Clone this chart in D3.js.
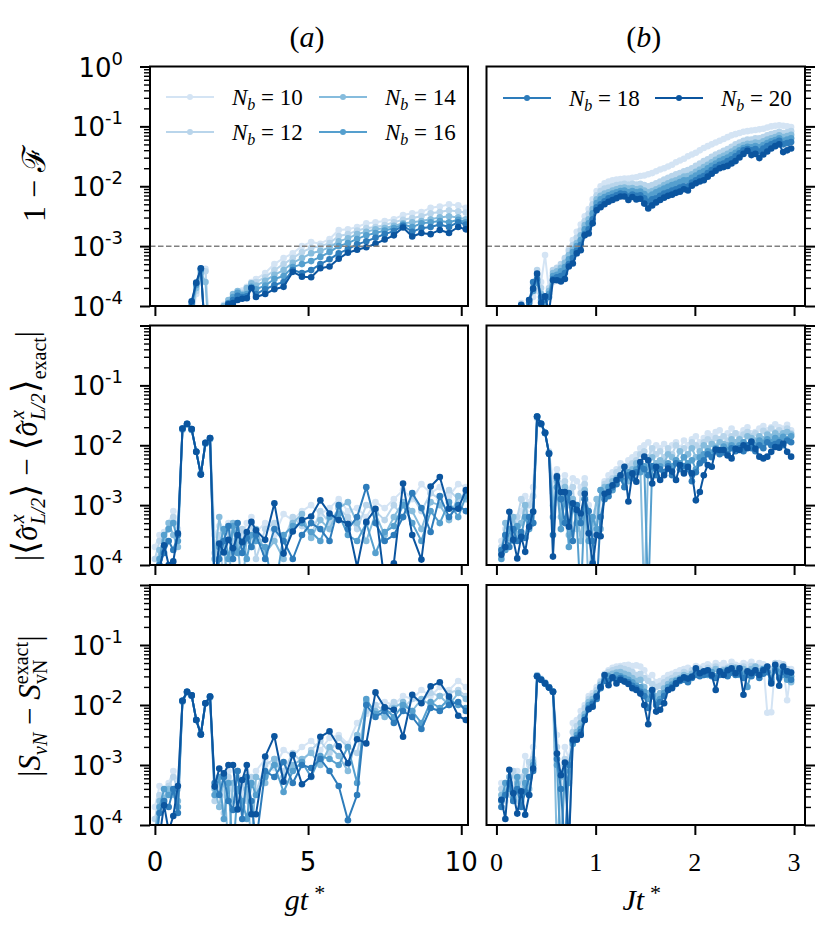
<!DOCTYPE html>
<html>
<head>
<meta charset="utf-8">
<script src="https://cdnjs.cloudflare.com/ajax/libs/d3/7.8.5/d3.min.js"></script>
<style>
  body { margin: 0; background: #fff; }
  svg { display: block; }
</style>
</head>
<body>
<svg id="fig"></svg>
<script>
// series order everywhere: N_b = 10, 12, 14, 16, 18, 20 ; values are log10 of the plotted quantity
const NB = [10, 12, 14, 16, 18, 20];

// time grids
const X_G = [0,0.15,0.3,0.45,0.6,0.75,0.9,1.05,1.2,1.35,1.5,1.65,1.8,1.95,2.1,2.25,2.4,2.55,2.7,2.85,3.0,3.15,3.3,
  3.6,3.9,4.2,4.5,4.8,5.1,5.4,5.7,6.0,6.3,6.6,6.9,7.2,7.5,7.8,8.1,8.4,8.7,9.0,9.3,9.6,9.9,10.15];
const X_J = [0.05,0.09,0.13,0.17,0.21,0.25,0.29,0.33,0.37,0.41,
  0.45,0.49,0.53,0.57,0.61,0.65,0.69,0.73,0.77,0.81,
  0.85,0.89,0.93,0.97,1.01,1.05,1.09,1.13,1.17,1.21,
  1.25,1.29,1.33,1.37,1.41,1.45,1.49,1.53,1.57,1.61,
  1.65,1.69,1.73,1.77,1.81,1.85,1.89,1.93,1.97,2.01,
  2.05,2.09,2.13,2.17,2.21,2.25,2.29,2.33,2.37,2.41,
  2.45,2.49,2.53,2.57,2.61,2.65,2.69,2.73,2.77,2.81,
  2.85,2.89,2.93,2.97];

// (a) 1 - F vs g t
const FID_G = [
  [-5,-5,-5,-5,-5,-5,-5,-4.6,-4.3,-3.8,-3.45,-3.38,-4.6,-4.5,-4.1,-3.98,-3.92,-3.85,-3.8,-3.74,-3.68,-3.6,-3.55,-3.45,-3.3,-3.2,-3.12,-3.0,-2.93,-2.96,-2.88,-2.73,-2.72,-2.68,-2.62,-2.6,-2.58,-2.55,-2.48,-2.45,-2.43,-2.36,-2.34,-2.3,-2.32,-2.36],
  [-5,-5,-5,-5,-5,-5,-5,-4.5,-4.2,-3.75,-3.5,-3.42,-4.7,-4.5,-4.2,-4.02,-3.96,-3.9,-3.85,-3.78,-3.72,-3.66,-3.6,-3.52,-3.4,-3.3,-3.2,-3.1,-3.03,-3.0,-2.95,-2.83,-2.8,-2.74,-2.7,-2.68,-2.65,-2.6,-2.56,-2.53,-2.5,-2.45,-2.43,-2.4,-2.42,-2.44],
  [-5,-5,-5,-5,-5,-5,-5,-4.4,-4.1,-3.7,-3.45,-3.6,-4.8,-4.4,-4.15,-4.0,-3.9,-3.8,-3.75,-3.8,-3.7,-3.62,-3.66,-3.58,-3.48,-3.4,-3.28,-3.2,-3.12,-3.08,-3.02,-2.92,-2.87,-2.8,-2.76,-2.72,-2.7,-2.66,-2.62,-2.6,-2.58,-2.55,-2.52,-2.5,-2.52,-2.55],
  [-5,-5,-5,-5,-5,-5,-5,-4.3,-4.0,-3.65,-3.4,-4.5,-5,-4.5,-4.2,-4.05,-3.95,-3.85,-3.78,-3.82,-3.8,-3.68,-3.72,-3.66,-3.55,-3.5,-3.35,-3.3,-3.25,-3.18,-3.1,-3.0,-2.95,-2.88,-2.82,-2.78,-2.74,-2.7,-2.64,-2.68,-2.62,-2.6,-2.58,-2.6,-2.56,-2.6],
  [-5,-5,-5,-5,-5,-5,-5,-4.3,-3.95,-3.62,-3.38,-4.6,-5,-4.6,-4.25,-4.05,-3.96,-3.9,-3.83,-3.85,-3.84,-3.7,-3.8,-3.72,-3.65,-3.6,-3.4,-3.45,-3.4,-3.3,-3.22,-3.12,-3.05,-2.97,-2.92,-2.86,-2.8,-2.75,-2.66,-2.76,-2.7,-2.68,-2.64,-2.68,-2.6,-2.64],
  [-5,-5,-5,-5,-5,-5,-4.6,-4.3,-3.92,-3.61,-3.37,-4.6,-5,-4.6,-4.3,-4.1,-3.97,-3.95,-3.9,-3.88,-3.87,-3.7,-3.85,-3.8,-3.72,-3.68,-3.43,-3.51,-3.52,-3.37,-3.34,-3.21,-3.11,-3.06,-3.02,-2.96,-2.89,-2.82,-2.69,-2.84,-2.78,-2.8,-2.73,-2.78,-2.68,-2.72]
];

// (b) 1 - F vs J t
const FID_J = [
  [-4.6,-4.5,-4.3,-4.2,-4.05,-3.95,-4.1,-3.9,-3.85,-3.75,-3.6,-3.15,-3.75,
   -3.6,-3.5,-3.38,-3.22,-3.05,-2.9,-2.76,-2.64,-2.5,-2.38,-2.22,
   -2.08,-2.0,-1.95,-1.92,-1.9,-1.89,-1.88,-1.87,-1.87,-1.86,-1.85,-1.83,-1.82,-1.8,-1.78,-1.75,-1.72,-1.7,-1.67,-1.64,
   -1.6,-1.57,-1.54,-1.5,-1.47,-1.44,-1.4,-1.36,-1.33,-1.3,-1.27,-1.24,-1.21,-1.18,-1.15,-1.13,-1.11,-1.09,-1.08,-1.07,
   -1.06,-1.05,-1.04,-1.02,-1.0,-0.99,-0.98,-0.99,-1.0,-1.01],
  [-4.6,-4.5,-4.35,-4.2,-4.1,-4.0,-4.1,-3.9,-3.65,-3.4,-3.7,-3.85,-3.7,
   -3.4,-3.36,-3.3,-3.2,-3.08,-2.98,-2.86,-2.74,-2.58,-2.46,-2.3,
   -2.15,-2.08,-2.04,-2.02,-2.0,-1.98,-1.97,-1.96,-1.97,-1.96,-1.97,-1.96,-1.98,-2.0,-1.98,-1.95,-1.92,-1.89,-1.86,-1.83,
   -1.8,-1.78,-1.75,-1.73,-1.7,-1.66,-1.62,-1.58,-1.55,-1.51,-1.47,-1.44,-1.41,-1.38,-1.34,-1.3,-1.27,-1.24,-1.22,-1.22,
   -1.2,-1.2,-1.18,-1.15,-1.13,-1.11,-1.09,-1.11,-1.1,-1.08],
  [-4.6,-4.4,-4.3,-4.2,-4.15,-4.0,-4.1,-3.95,-3.7,-3.5,-3.8,-3.9,-3.75,
   -3.45,-3.42,-3.36,-3.28,-3.15,-3.05,-2.95,-2.82,-2.65,-2.55,-2.38,
   -2.22,-2.16,-2.12,-2.1,-2.07,-2.05,-2.03,-2.02,-2.04,-2.03,-2.05,-2.04,-2.07,-2.1,-2.08,-2.05,-2.02,-1.98,-1.95,-1.92,
   -1.9,-1.87,-1.84,-1.83,-1.8,-1.76,-1.72,-1.68,-1.64,-1.6,-1.56,-1.52,-1.49,-1.46,-1.42,-1.38,-1.34,-1.31,-1.29,-1.29,
   -1.27,-1.28,-1.25,-1.22,-1.2,-1.18,-1.15,-1.18,-1.16,-1.14],
  [-4.6,-4.5,-4.2,-4.3,-4.1,-4.05,-4.2,-3.9,-3.75,-3.6,-3.9,-4.0,-3.8,
   -3.5,-3.48,-3.42,-3.35,-3.22,-3.1,-3.0,-2.9,-2.72,-2.62,-2.45,
   -2.28,-2.22,-2.18,-2.15,-2.12,-2.1,-2.08,-2.07,-2.1,-2.08,-2.1,-2.09,-2.13,-2.17,-2.14,-2.1,-2.07,-2.04,-2.01,-1.98,
   -1.96,-1.93,-1.9,-1.9,-1.86,-1.82,-1.78,-1.75,-1.7,-1.66,-1.62,-1.58,-1.55,-1.52,-1.48,-1.44,-1.4,-1.36,-1.34,-1.35,
   -1.33,-1.35,-1.31,-1.28,-1.25,-1.23,-1.2,-1.24,-1.22,-1.2],
  [-4.5,-4.4,-4.3,-4.1,-4.2,-4.0,-4.1,-3.95,-3.6,-3.55,-3.85,-3.9,-3.85,
   -3.55,-3.52,-3.5,-3.45,-3.3,-3.2,-3.08,-2.98,-2.8,-2.72,-2.55,
   -2.35,-2.3,-2.25,-2.2,-2.18,-2.15,-2.12,-2.13,-2.17,-2.14,-2.16,-2.15,-2.2,-2.26,-2.22,-2.2,-2.16,-2.12,-2.1,-2.07,
   -2.05,-2.02,-2.0,-2.0,-1.94,-1.9,-1.86,-1.83,-1.78,-1.73,-1.68,-1.64,-1.62,-1.58,-1.55,-1.5,-1.45,-1.4,-1.38,-1.4,
   -1.38,-1.42,-1.37,-1.33,-1.3,-1.27,-1.24,-1.3,-1.28,-1.26],
  [-4.5,-4.4,-4.3,-4.2,-4.05,-3.98,-4.3,-3.9,-3.71,-3.46,-3.95,-3.84,-4.1,
   -3.57,-3.57,-3.59,-3.55,-3.34,-3.29,-3.12,-3.07,-2.82,-2.79,-2.62,
   -2.4,-2.35,-2.3,-2.26,-2.23,-2.2,-2.17,-2.17,-2.23,-2.18,-2.22,-2.21,-2.29,-2.37,-2.32,-2.27,-2.23,-2.19,-2.16,-2.14,
   -2.11,-2.09,-2.05,-2.07,-1.99,-1.95,-1.92,-1.9,-1.84,-1.79,-1.74,-1.7,-1.68,-1.66,-1.62,-1.58,-1.52,-1.46,-1.41,-1.48,
   -1.46,-1.53,-1.47,-1.42,-1.37,-1.33,-1.3,-1.43,-1.4,-1.37]
];

// |<sigma^x_{L/2}> - exact| vs g t
const SIG_G = [
  [-3.7,-3.5,-3.45,-3.3,-3.1,-3.4,-1.75,-1.66,-1.75,-2.1,-2.45,-1.98,-1.9,-3.5,-3.35,-3.6,-3.3,-3.7,-3.4,-3.5,-3.3,-3.2,-3.45,-3.3,-3.5,-3.15,-3.25,-3.1,-3.0,-3.15,-3.05,-2.9,-3.1,-3.05,-3.2,-2.95,-3.05,-2.9,-2.75,-2.9,-2.65,-2.8,-2.7,-2.85,-2.65,-2.7],
  [-3.9,-3.6,-3.55,-3.4,-3.2,-3.5,-1.74,-1.65,-1.74,-2.1,-2.47,-1.97,-1.89,-3.8,-3.5,-4.3,-3.45,-3.6,-3.8,-3.4,-3.6,-3.3,-3.9,-3.4,-3.3,-3.6,-3.2,-3.35,-3.5,-3.1,-3.3,-3.05,-3.2,-3.4,-3.0,-3.1,-3.25,-3.0,-3.2,-2.85,-3.1,-2.8,-2.9,-2.75,-2.9,-2.8],
  [-4.2,-3.75,-3.6,-3.3,-3.5,-3.7,-1.73,-1.65,-1.74,-2.11,-2.48,-1.97,-1.89,-3.9,-3.2,-3.7,-4.4,-3.3,-3.6,-4.5,-3.5,-3.7,-3.4,-3.8,-3.6,-3.9,-3.3,-3.15,-3.55,-3.25,-3.4,-3.05,-2.95,-3.3,-3.6,-3.15,-3.5,-3.2,-2.95,-3.1,-3.4,-2.95,-3.0,-3.25,-2.85,-2.9],
  [-4.3,-3.9,-3.5,-3.4,-3.3,-3.6,-1.73,-1.65,-1.74,-2.11,-2.48,-1.97,-1.89,-4.4,-3.7,-3.4,-3.9,-3.35,-3.8,-3.6,-3.9,-3.5,-3.6,-3.7,-4.5,-3.5,-3.35,-3.3,-3.45,-3.6,-3.2,-3.15,-3.5,-3.6,-3.3,-3.8,-3.45,-3.35,-3.0,-3.3,-3.6,-3.1,-3.3,-2.95,-3.2,-2.85],
  [-4.5,-4.0,-3.8,-3.6,-3.75,-3.5,-1.72,-1.64,-1.73,-2.11,-2.49,-1.96,-1.88,-4.5,-3.9,-3.6,-3.35,-3.9,-3.3,-3.8,-3.55,-3.7,-3.5,-3.9,-3.4,-3.6,-3.9,-3.5,-3.3,-3.4,-3.6,-3.0,-3.4,-3.2,-2.7,-3.3,-3.6,-3.5,-3.2,-2.8,-3.05,-3.45,-2.85,-3.2,-3.0,-3.1],
  [-4.4,-4.1,-3.67,-4.0,-3.94,-3.47,-1.72,-1.64,-1.73,-2.11,-2.49,-1.96,-1.88,-4.3,-3.64,-3.79,-3.58,-3.72,-3.5,-3.62,-3.45,-3.28,-3.42,-3.58,-2.97,-3.81,-3.44,-3.25,-3.19,-2.92,-3.14,-3.25,-3.31,-4.03,-3.28,-3.06,-4.3,-3.97,-2.64,-3.5,-3.91,-2.69,-2.53,-3.06,-3.06,-2.75]
];

// |<sigma^x_{L/2}> - exact| vs J t
const SIG_J = [
  [-3.6,-3.4,-3.3,-3.25,-3.3,-3.1,-2.85,-2.95,-2.7,-1.55,
   -1.66,-1.8,-2.1,-2.6,-2.4,-2.65,-2.5,-2.8,-2.55,-2.6,
   -2.7,-2.55,-3.0,-3.3,-4.5,-2.9,-2.6,-2.5,-2.45,-2.4,
   -2.3,-2.35,-2.25,-2.2,-2.15,-2.05,-2.0,-1.95,-2.1,-2.0,
   -2.05,-1.98,-2.1,-2.0,-1.95,-2.05,-1.92,-2.0,-1.9,-1.85,
   -1.95,-1.88,-1.8,-1.85,-1.78,-1.75,-1.85,-1.8,-1.72,-1.8,
   -1.82,-1.75,-1.7,-1.8,-1.78,-1.72,-1.68,-1.75,-1.7,-1.65,
   -1.7,-1.72,-1.66,-1.75],
  [-3.7,-3.5,-3.4,-3.3,-3.2,-2.9,-3.1,-3.0,-2.85,-1.54,
   -1.65,-1.79,-2.12,-2.8,-2.5,-2.9,-2.6,-3.0,-2.7,-3.4,
   -2.8,-2.65,-3.2,-4.4,-3.1,-2.75,-2.65,-2.6,-2.55,-2.45,
   -2.4,-2.5,-2.35,-2.3,-2.25,-2.15,-2.1,-2.2,-2.05,-2.15,
   -2.1,-2.2,-2.05,-2.15,-2.0,-2.1,-2.05,-2.15,-1.95,-2.0,
   -2.05,-1.95,-1.9,-1.95,-1.88,-1.9,-1.85,-1.92,-1.85,-1.8,
   -1.88,-1.82,-1.78,-1.85,-1.8,-1.85,-1.76,-1.8,-1.72,-1.78,
   -1.75,-1.8,-1.72,-1.8],
  [-3.8,-3.3,-3.55,-3.2,-3.5,-3.3,-3.0,-3.3,-3.1,-1.53,
   -1.65,-1.8,-2.13,-3.0,-2.6,-3.2,-2.7,-3.5,-2.9,-3.1,
   -3.6,-2.75,-4.5,-3.3,-2.9,-3.4,-2.7,-2.7,-2.6,-2.55,
   -2.5,-2.45,-2.6,-2.4,-2.3,-2.35,-4.6,-2.3,-2.2,-2.3,
   -2.25,-2.3,-2.15,-2.2,-2.25,-2.1,-2.2,-2.15,-2.05,-2.2,
   -2.1,-2.0,-2.05,-1.98,-2.02,-1.95,-1.98,-2.0,-1.9,-1.95,
   -1.9,-1.95,-1.85,-1.88,-1.92,-1.85,-1.9,-1.82,-1.86,-1.8,
   -1.85,-1.8,-1.78,-1.82],
  [-3.9,-3.75,-3.4,-3.6,-3.35,-3.5,-3.2,-3.4,-3.3,-1.52,
   -1.64,-1.79,-2.14,-3.2,-2.7,-3.4,-2.85,-3.7,-3.0,-3.3,
   -4.6,-2.9,-3.6,-3.2,-3.4,-2.75,-2.85,-2.7,-2.75,-2.6,
   -2.55,-2.6,-2.45,-2.5,-2.4,-2.45,-2.35,-4.6,-2.35,-2.4,
   -2.35,-2.45,-2.3,-2.35,-2.25,-2.3,-2.2,-2.3,-2.25,-2.4,
   -2.2,-2.15,-2.1,-2.12,-2.05,-2.1,-2.02,-2.08,-2.0,-2.05,
   -2.0,-1.95,-2.02,-1.95,-2.0,-1.92,-1.96,-1.9,-1.95,-1.88,
   -1.92,-1.86,-1.9,-1.85],
  [-3.75,-3.5,-3.7,-3.4,-3.6,-3.45,-3.55,-3.2,-3.3,-1.52,
   -1.64,-1.79,-2.14,-3.5,-2.55,-2.9,-3.3,-2.8,-3.6,-3.0,
   -3.3,-2.9,-3.1,-3.6,-4.4,-3.2,-2.9,-2.85,-2.7,-2.65,
   -2.55,-2.7,-2.5,-2.55,-2.45,-2.35,-2.4,-2.5,-2.35,-2.5,
   -2.4,-2.45,-2.35,-2.5,-2.3,-2.4,-2.35,-2.4,-2.6,-2.45,
   -2.3,-2.25,-2.15,-2.2,-2.1,-2.15,-2.12,-2.15,-2.05,-2.1,
   -2.05,-2.1,-2.0,-2.05,-2.1,-2.0,-2.05,-1.95,-2.0,-1.98,
   -1.95,-2.0,-1.92,-1.95],
  [-3.83,-3.7,-3.11,-3.58,-3.89,-3.53,-3.78,-3.36,-3.11,-1.52,
   -1.64,-1.79,-2.14,-3.86,-2.52,-2.78,-2.78,-3.36,-2.97,-3.08,
   -3.14,-2.81,-3.47,-3.97,-3.5,-3.52,-2.81,-2.78,-2.67,-2.58,
   -2.5,-2.36,-2.94,-2.47,-2.61,-2.28,-2.19,-2.25,-2.64,-2.36,
   -2.58,-2.5,-2.39,-2.44,-2.58,-2.33,-2.47,-2.36,-2.47,-2.92,
   -2.78,-2.5,-2.33,-2.36,-2.07,-2.08,-2.08,-2.17,-2.22,-2.06,
   -2.08,-2.0,-2.05,-1.94,-2.06,-2.19,-2.22,-2.19,-2.11,-2.03,
   -2.04,-1.97,-2.11,-2.19]
];

// |S_vN - S_vN^exact| vs g t
const SVN_G = [
  [-3.7,-3.35,-3.5,-3.3,-3.1,-3.3,-1.95,-1.8,-1.85,-2.25,-2.47,-1.98,-1.88,-3.5,-3.2,-3.5,-3.1,-3.4,-3.2,-3.5,-3.0,-3.3,-3.1,-2.9,-3.05,-2.75,-2.85,-2.7,-2.6,-2.75,-2.55,-2.5,-2.65,-2.3,-2.15,-2.0,-1.95,-2.0,-1.85,-1.9,-1.75,-1.85,-1.7,-1.75,-1.6,-1.7],
  [-3.9,-3.5,-3.6,-3.35,-3.2,-3.4,-1.94,-1.79,-1.85,-2.25,-2.48,-1.97,-1.87,-3.6,-3.3,-3.8,-3.2,-3.6,-3.4,-3.3,-3.6,-3.2,-3.45,-3.0,-2.9,-3.1,-2.8,-2.95,-2.75,-2.6,-2.8,-2.55,-2.7,-2.8,-2.1,-2.0,-2.1,-1.95,-2.05,-1.9,-1.95,-1.8,-1.85,-1.8,-1.75,-1.85],
  [-4.1,-3.6,-3.55,-3.4,-3.5,-3.6,-1.94,-1.79,-1.84,-2.25,-2.49,-1.97,-1.87,-3.4,-3.7,-3.2,-4.4,-3.3,-3.1,-3.7,-3.4,-4.3,-3.2,-3.3,-2.9,-3.2,-3.0,-2.9,-2.8,-3.0,-2.7,-2.85,-3.1,-2.5,-1.95,-2.1,-2.2,-2.05,-1.95,-2.1,-1.9,-2.0,-1.85,-2.0,-1.8,-1.9],
  [-4.3,-3.7,-3.4,-3.5,-3.45,-3.7,-1.93,-1.78,-1.84,-2.25,-2.49,-1.97,-1.86,-3.5,-3.2,-3.9,-3.3,-4.5,-3.4,-3.6,-3.9,-3.3,-3.5,-3.2,-3.0,-3.45,-3.1,-2.95,-3.2,-2.85,-2.9,-3.0,-2.7,-3.3,-1.9,-2.15,-2.05,-2.2,-2.0,-2.1,-2.3,-1.95,-2.05,-1.9,-2.0,-2.05],
  [-4.5,-3.8,-3.6,-3.7,-3.4,-3.8,-1.93,-1.78,-1.84,-2.25,-2.49,-1.97,-1.86,-3.3,-3.5,-3.2,-3.6,-3.75,-3.1,-3.9,-3.2,-3.6,-4.3,-3.1,-3.2,-2.95,-3.3,-3.0,-3.05,-2.9,-3.1,-3.35,-3.92,-3.5,-2.0,-2.2,-2.1,-2.3,-2.1,-2.2,-2.4,-2.05,-2.1,-2.0,-1.95,-2.1],
  [-4.4,-4.2,-3.67,-4.1,-3.85,-3.35,-1.93,-1.78,-1.84,-2.25,-2.49,-1.97,-1.86,-3.36,-3.06,-3.14,-3.0,-3.0,-3.74,-3.25,-3.0,-3.82,-3.82,-2.86,-2.52,-3.28,-2.83,-3.32,-3.19,-2.53,-2.44,-2.69,-2.97,-2.57,-2.64,-1.79,-2.04,-2.08,-2.53,-1.83,-1.97,-1.69,-1.62,-1.86,-2.18,-2.25]
];

// |S_vN - S_vN^exact| vs J t
const SVN_J = [
  [-3.3,-3.6,-3.2,-3.4,-3.1,-3.3,-2.85,-3.0,-2.7,-1.5,
   -1.56,-1.62,-1.7,-1.78,-2.5,-3.3,-2.7,-2.9,-2.3,-2.25,
   -2.1,-2.0,-1.85,-1.8,-1.7,-1.6,-1.48,-1.42,-1.38,-1.36,
   -1.35,-1.34,-1.33,-1.35,-1.34,-1.36,-1.42,-1.55,-1.5,-1.62,
   -1.6,-1.55,-1.5,-1.48,-1.45,-1.42,-1.4,-1.38,-1.42,-1.35,
   -1.38,-1.35,-1.32,-1.36,-1.3,-1.34,-1.3,-1.36,-1.28,-1.33,
   -1.35,-1.3,-1.33,-1.28,-1.35,-1.3,-1.32,-2.13,-2.12,-1.32,
   -1.3,-1.35,-1.92,-1.4],
  [-3.4,-3.3,-3.5,-3.1,-3.6,-3.2,-3.4,-2.95,-2.9,-1.51,
   -1.57,-1.63,-1.7,-1.78,-2.7,-4.4,-2.9,-3.1,-2.45,-2.35,
   -2.2,-2.05,-1.9,-1.85,-1.75,-1.62,-1.5,-1.45,-1.42,-1.4,
   -1.38,-1.4,-1.42,-1.45,-1.5,-1.48,-1.55,-1.6,-1.65,-1.7,
   -1.68,-1.62,-1.58,-1.55,-1.5,-1.5,-1.45,-1.48,-1.42,-1.45,
   -1.4,-1.45,-1.38,-1.42,-1.36,-1.45,-1.4,-1.38,-1.35,-1.42,
   -1.4,-1.36,-1.42,-1.35,-1.4,-1.38,-1.45,-1.36,-1.4,-1.3,
   -1.38,-1.32,-1.4,-1.45],
  [-3.5,-3.45,-3.2,-3.6,-3.3,-3.5,-3.1,-3.4,-2.95,-1.51,
   -1.57,-1.63,-1.7,-1.77,-4.5,-3.2,-3.0,-4.3,-2.6,-2.45,
   -2.3,-2.15,-1.95,-1.9,-1.8,-1.66,-1.55,-1.5,-1.48,-1.46,
   -1.45,-1.48,-1.5,-1.55,-1.6,-1.58,-1.7,-1.8,-1.75,-1.85,
   -1.8,-1.72,-1.65,-1.6,-1.58,-1.55,-1.5,-1.52,-1.48,-1.42,
   -1.45,-1.5,-1.42,-1.48,-1.4,-1.45,-1.42,-1.4,-1.46,-1.38,
   -1.42,-1.4,-1.46,-1.4,-1.36,-1.44,-1.4,-1.42,-1.5,-1.35,
   -1.4,-1.45,-1.5,-1.62],
  [-3.6,-3.3,-3.4,-3.55,-3.2,-3.6,-3.3,-3.5,-3.0,-1.52,
   -1.58,-1.64,-1.71,-1.78,-3.0,-4.5,-3.1,-3.3,-2.65,-2.5,
   -2.4,-2.2,-2.0,-1.95,-1.85,-1.7,-1.58,-1.52,-1.55,-1.5,
   -1.52,-1.55,-1.58,-1.62,-1.68,-1.7,-1.78,-1.9,-1.8,-1.95,
   -1.9,-1.8,-1.7,-1.66,-1.6,-1.58,-1.55,-1.6,-1.52,-1.48,
   -1.5,-1.46,-1.5,-1.45,-1.52,-1.48,-1.45,-1.5,-1.42,-1.45,
   -1.5,-1.48,-1.7,-1.45,-1.42,-1.48,-1.4,-1.45,-1.55,-1.4,
   -1.45,-1.5,-1.58,-1.52],
  [-3.7,-3.5,-3.3,-3.6,-3.4,-3.7,-3.45,-3.2,-3.1,-1.52,
   -1.58,-1.64,-1.71,-1.78,-2.9,-3.4,-4.4,-3.0,-2.6,-2.55,
   -2.45,-2.25,-2.05,-1.98,-1.9,-1.72,-1.6,-1.6,-1.55,-1.58,
   -1.55,-1.6,-1.62,-1.68,-1.72,-1.78,-1.85,-2.05,-1.85,-2.0,
   -1.95,-1.85,-1.75,-1.7,-1.65,-1.6,-1.58,-1.62,-1.55,-1.5,
   -1.52,-1.5,-1.48,-1.52,-1.55,-1.5,-1.48,-1.52,-1.46,-1.5,
   -1.48,-1.55,-1.5,-1.52,-1.46,-1.55,-1.48,-1.45,-1.6,-1.42,
   -1.55,-1.45,-1.5,-1.58],
  [-3.58,-3.9,-3.08,-3.47,-3.81,-3.44,-3.83,-3.5,-3.06,-1.52,
   -1.58,-1.64,-1.71,-1.78,-2.81,-3.17,-2.96,-4.4,-2.58,-2.58,
   -2.5,-2.25,-2.07,-2.03,-1.86,-1.7,-1.5,-1.67,-1.54,-1.64,
   -1.58,-1.61,-1.65,-1.72,-1.75,-1.81,-2.0,-2.32,-1.75,-2.11,
   -2.08,-1.97,-1.75,-1.72,-1.64,-1.58,-1.54,-1.56,-1.53,-1.39,
   -1.47,-1.44,-1.42,-1.5,-1.75,-1.44,-1.5,-1.42,-1.39,-1.47,
   -1.39,-1.83,-1.44,-1.47,-1.42,-1.5,-1.42,-1.36,-1.64,-1.33,
   -1.68,-1.36,-1.44,-1.46]
];

const COLORS = ["#d4e4f4", "#b9d5eb", "#86bcdd", "#559fce", "#2d7cbb", "#0b559f"];
const X_TICKS_G = [0, 5, 10], X_TICKS_J = [0, 1, 2, 3];

(() => {
  const W = 830, H = 949;
  const SANS = "'DejaVu Sans', sans-serif";
  const SERIF = "'Liberation Serif', 'DejaVu Serif', serif";

  const svg = d3.select("#fig").attr("width", W).attr("height", H).style("background", "#fff");

  // axes frames; the right column uses serif tick labels like the original
  const COLS = [
    { x0: 150, x1: 468, dom: [-0.16, 10.22], ticks: X_TICKS_G, xs: X_G, tickFont: SANS, xl: "gt" },
    { x0: 486.5, x1: 805, dom: [-0.1, 3.11], ticks: X_TICKS_J, xs: X_J, tickFont: SERIF, xl: "Jt" }
  ];
  const ROWS = [
    { y0: 66.5, y1: 306, labels: [0, -1, -2, -3, -4] },
    { y0: 325.5, y1: 565, labels: [-1, -2, -3, -4] },
    { y0: 585, y1: 825, labels: [-1, -2, -3, -4] }
  ];
  const PANELS = [[FID_G, FID_J], [SIG_G, SIG_J], [SVN_G, SVN_J]];

  const MAJOR = [1e-4, 1e-3, 1e-2, 1e-1, 1];
  const MINOR = [];
  [-4, -3, -2, -1].forEach(e => { for (let k = 2; k <= 9; k++) MINOR.push(k * Math.pow(10, e)); });

  // tspan helper
  const ts = (t, txt, o = {}) => {
    const s = t.append("tspan").text(txt);
    if (o.it) s.attr("font-style", "italic");
    if (o.fs) s.attr("font-size", o.fs);
    if (o.dx) s.attr("dx", o.dx);
    if (o.dy) s.attr("dy", o.dy);
    if (o.ff) s.attr("font-family", o.ff);
    return s;
  };

  const styleAxis = (w) => s => {
    s.select(".domain").remove();
    s.selectAll(".tick line").attr("stroke", "#000").attr("stroke-width", w);
  };

  PANELS.forEach((row, r) => row.forEach((series, c) => {
    const R = ROWS[r], C = COLS[c];
    const x = d3.scaleLinear().domain(C.dom).range([C.x0, C.x1]);
    const y = d3.scaleLog().domain([1e-4, 1]).range([R.y1, R.y0]);
    const g = svg.append("g");

    const cid = `clip${r}${c}`;
    svg.append("clipPath").attr("id", cid).append("rect")
      .attr("x", C.x0).attr("y", R.y0).attr("width", C.x1 - C.x0).attr("height", R.y1 - R.y0);
    const dg = g.append("g").attr("clip-path", `url(#${cid})`);

    const line = d3.line().x(d => x(d[0])).y(d => y(d[1]));
    series.forEach((vals, i) => {
      const n = Math.min(vals.length, C.xs.length);
      const pts = d3.range(n).map(k => [C.xs[k], Math.pow(10, vals[k])]);
      dg.append("path").datum(pts).attr("d", line)
        .attr("fill", "none").attr("stroke", COLORS[i]).attr("stroke-width", 2).attr("stroke-linejoin", "round");
      dg.append("g").selectAll("circle").data(pts).join("circle")
        .attr("cx", d => x(d[0])).attr("cy", d => y(d[1])).attr("r", 3.3).attr("fill", COLORS[i]);
    });

    // 1e-3 reference line on the infidelity panels
    if (r === 0) {
      dg.append("line").attr("x1", C.x0).attr("x2", C.x1).attr("y1", y(1e-3)).attr("y2", y(1e-3))
        .attr("stroke", "#808080").attr("stroke-width", 1.5).attr("stroke-dasharray", "5.5,2.5");
    }

    // frame
    g.append("rect").attr("x", C.x0).attr("y", R.y0).attr("width", C.x1 - C.x0).attr("height", R.y1 - R.y0)
      .attr("fill", "none").attr("stroke", "#000").attr("stroke-width", 2);

    // y ticks (left column: left side, right column: right side)
    const mk = () => c === 0 ? d3.axisLeft(y) : d3.axisRight(y);
    const ax = c === 0 ? C.x0 : C.x1;
    g.append("g").attr("transform", `translate(${ax},0)`)
      .call(mk().tickValues(MAJOR).tickSize(10).tickFormat(""))
      .call(styleAxis(2));
    g.append("g").attr("transform", `translate(${ax},0)`)
      .call(mk().tickValues(MINOR).tickSize(6).tickFormat(""))
      .call(styleAxis(1.4));

    // x ticks
    g.append("g").attr("transform", `translate(0,${R.y1})`)
      .call(d3.axisBottom(x).tickValues(C.ticks).tickSize(10).tickFormat(""))
      .call(styleAxis(2));

    // y tick labels
    if (c === 0) {
      R.labels.forEach(e => {
        const t = g.append("text").attr("x", 123).attr("y", y(Math.pow(10, e)) + 10)
          .attr("text-anchor", "end").attr("font-family", SANS).attr("font-size", 26).attr("fill", "#000");
        ts(t, "10");
        ts(t, e === 0 ? "0" : "-" + (-e), { fs: 18, dy: -12 });
      });
    }

    // x tick labels and axis title on the bottom row
    if (r === 2) {
      C.ticks.forEach(v => {
        g.append("text").attr("x", x(v)).attr("y", 871).attr("text-anchor", "middle")
          .attr("font-family", C.tickFont).attr("font-size", 26).attr("fill", "#000").text(v);
      });
      const t = g.append("text").attr("x", (C.x0 + C.x1) / 2 - 4).attr("y", 910).attr("text-anchor", "middle")
        .attr("font-family", SERIF).attr("font-size", 30).attr("fill", "#000");
      ts(t, C.xl, { it: 1 });
      ts(t, "*", { fs: 22, dx: 6, dy: -10 });
    }

    // column titles
    if (r === 0) {
      const t = svg.append("text").attr("x", (C.x0 + C.x1) / 2 - 2).attr("y", 47).attr("text-anchor", "middle")
        .attr("font-family", SERIF).attr("font-size", 30).attr("fill", "#000");
      ts(t, "(");
      ts(t, c === 0 ? "a" : "b", { it: 1 });
      ts(t, ")");
    }
  }));

  // legends
  const LEG = [
    { i: 0, lx: 166, ly: 97 }, { i: 1, lx: 166, ly: 132 },
    { i: 2, lx: 319, ly: 97 }, { i: 3, lx: 319, ly: 132 },
    { i: 4, lx: 503, ly: 98 }, { i: 5, lx: 655, ly: 98 }
  ];
  LEG.forEach(({ i, lx, ly }) => {
    const lg = svg.append("g");
    lg.append("line").attr("x1", lx).attr("x2", lx + 48).attr("y1", ly).attr("y2", ly)
      .attr("stroke", COLORS[i]).attr("stroke-width", 2);
    lg.append("circle").attr("cx", lx + 24).attr("cy", ly).attr("r", 3).attr("fill", COLORS[i]);
    const t = lg.append("text").attr("x", lx + 66).attr("y", ly + 8)
      .attr("font-family", SERIF).attr("font-size", 23).attr("fill", "#000");
    ts(t, "N", { it: 1 });
    ts(t, "b", { it: 1, fs: 16, dy: 5 });
    ts(t, " = " + NB[i], { dy: -5 });
  });

  // y-axis labels
  const yLabel = (cx, cy, fs) => svg.append("text")
    .attr("transform", `translate(${cx},${cy}) rotate(-90)`)
    .attr("text-anchor", "middle").attr("font-family", SERIF).attr("font-size", fs).attr("fill", "#000");

  let t = yLabel(45, 184, 32);
  ts(t, "1 − ");
  ts(t, "ℱ");

  // sigma with a hat, then stacked x / L/2
  const sigmaHat = (t) => {
    ts(t, "σ", { it: 1 });
    ts(t, "ˆ", { dx: -13, dy: 1 });
    ts(t, "x", { it: 1, fs: 20, dx: 5, dy: -14 });
    ts(t, "L/2", { it: 1, fs: 20, dx: -10, dy: 21 });
  };

  t = yLabel(37, 446, 31);
  ts(t, "|");
  ts(t, "⟨", { ff: SANS, fs: 36 });
  sigmaHat(t);
  ts(t, "⟩", { ff: SANS, fs: 36, dy: -8 });
  ts(t, " − ");
  ts(t, "⟨", { ff: SANS, fs: 36 });
  sigmaHat(t);
  ts(t, "⟩", { ff: SANS, fs: 36, dy: -8 });
  ts(t, "exact", { fs: 20, dy: 9 });
  ts(t, "|", { dy: -9 });

  t = yLabel(40, 706, 31);
  ts(t, "|");
  ts(t, "S", { it: 1 });
  ts(t, "vN", { it: 1, fs: 20, dy: 7 });
  ts(t, " − ", { dy: -7 });
  ts(t, "S", { it: 1 });
  ts(t, "exact", { fs: 20, dy: -12 });
  ts(t, "vN", { fs: 20, dx: -42, dy: 19 });
  ts(t, "|", { dx: 18, dy: -7 });
})();
</script>
</body>
</html>
